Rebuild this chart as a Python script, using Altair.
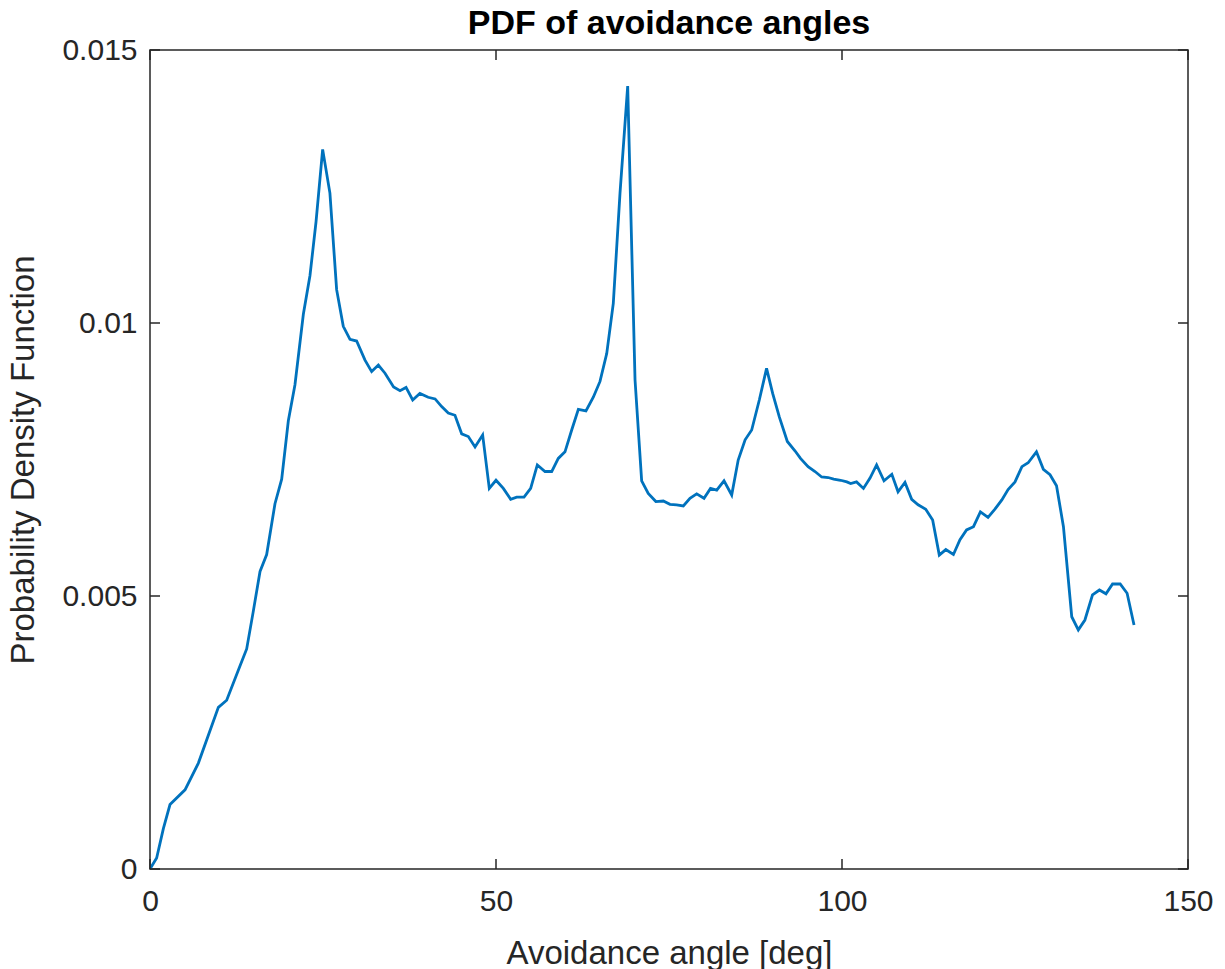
import altair as alt
import pandas as pd

# Curve (angle in deg, PDF value)
angle = [0, 0.96, 1.93, 2.89, 5.06, 6.99, 9.88, 11.08, 13.0, 13.97, 14.9, 15.9, 16.86,
         18.06, 19.03, 19.99, 20.95, 22.16, 23.12, 23.99, 24.95, 26.0, 26.97, 27.93,
         28.9, 29.86, 31.07, 32.03, 33.0, 33.96, 35.2, 36.13, 37.0, 37.96, 39.0, 40.2,
         41.2, 42.15, 43.1, 44.07, 45.04, 46.0, 46.97, 48.07, 49.03, 50.0, 51.06, 52.12,
         52.99, 54.05, 55.01, 55.97, 57.08, 58.05, 59.0, 59.97, 60.94, 61.9, 63.0, 64.06,
         65.03, 66.0, 66.95, 67.92, 69.03, 70.09, 71.05, 72.0, 73.1, 74.18, 75.14, 76.1,
         77.07, 78.03, 79.0, 80.06, 81.0, 81.9, 82.95, 84.06, 85.0, 86.0, 86.95, 88.05,
         89.1, 89.98, 90.94, 92.1, 93.2, 94.0, 95.1, 96.1, 97.06, 98.0, 98.8, 99.8, 100.7,
         101.25, 102.1, 103.1, 104.05, 105.0, 106.07, 107.2, 108.1, 109.1, 110.07, 111.0,
         112.1, 113.1, 114.06, 115.0, 116.1, 117.05, 118.0, 119.0, 120.0, 121.1, 122.1,
         123.1, 124.0, 125.0, 126.0, 126.9, 128.1, 129.1, 130.06, 131.0, 132.0, 133.2,
         134.15, 135.1, 136.2, 137.2, 138.15, 139.1, 140.2, 141.2, 142.2]
pdf = [0, 0.0002, 0.00074, 0.00118, 0.00145, 0.00194, 0.00296, 0.00309, 0.00372, 0.00403,
       0.0047, 0.00545, 0.00576, 0.00669, 0.00714, 0.00821, 0.00887, 0.01016, 0.01087,
       0.01185, 0.01318, 0.01238, 0.01061, 0.00994, 0.0097, 0.00967, 0.00932, 0.00911,
       0.00923, 0.00908, 0.00883, 0.00876, 0.00882, 0.00859, 0.00871, 0.00864, 0.00861,
       0.00847, 0.00835, 0.00831, 0.00797, 0.00792, 0.00773, 0.00795, 0.00697, 0.00712,
       0.00697, 0.00677, 0.00681, 0.00681, 0.00697, 0.0074, 0.00728, 0.00728, 0.00752,
       0.00764, 0.00804, 0.00842, 0.00839, 0.00864, 0.00893, 0.00944, 0.01036, 0.01238,
       0.01434, 0.00896, 0.00711, 0.00688, 0.00673, 0.00674, 0.00668, 0.00667, 0.00665,
       0.00679, 0.00687, 0.00679, 0.00697, 0.00694, 0.00711, 0.00685, 0.00749, 0.00786,
       0.00804, 0.00859, 0.00917, 0.00871, 0.00828, 0.00783, 0.00766, 0.00752, 0.00737,
       0.00728, 0.00718, 0.00717, 0.00714, 0.00712, 0.00709, 0.00706, 0.00709, 0.00697,
       0.00716, 0.0074, 0.00711, 0.00723, 0.00691, 0.00708, 0.00677, 0.00667, 0.00659,
       0.00639, 0.00575, 0.00585, 0.00576, 0.00603, 0.00621, 0.00627, 0.00654, 0.00644,
       0.00659, 0.00676, 0.00695, 0.00709, 0.00737, 0.00744, 0.00764, 0.00732, 0.00722,
       0.00702, 0.00627, 0.00462, 0.00438, 0.00456, 0.00502, 0.00511, 0.00504, 0.00522,
       0.00522, 0.00505, 0.00447]

x_ticks = [0, 50, 100, 150]
y_ticks = [0, 0.005, 0.01, 0.015]

W, H = 1038, 819
AX = "#262626"
FONT = "Liberation Sans"
TICK_LEN = 10

df = pd.DataFrame({"angle": angle, "pdf": pdf})
xt = pd.DataFrame({"angle": x_ticks})
yt = pd.DataFrame({"pdf": y_ticks})

xscale = alt.Scale(domain=[0, 150], nice=False, zero=False)
yscale = alt.Scale(domain=[0, 0.015], nice=False, zero=False)

common_axis = dict(grid=False, ticks=False, domain=False, labelFontSize=30, labelFont=FONT,
                   labelColor=AX, labelFlush=False, labelOverlap=False,
                   labelExpr="format(datum.value, '~g')",
                   titleFontSize=33, titleFont=FONT, titleColor=AX,
                   titleFontWeight="normal", titleBaseline="alphabetic")

line = alt.Chart(df).mark_line(color="#0072BD", strokeWidth=2.8, clip=True).encode(
    x=alt.X("angle:Q", scale=xscale,
            axis=alt.Axis(values=x_ticks, title="Avoidance angle [deg]", labelPadding=17,
                          titleY=94, **common_axis)),
    y=alt.Y("pdf:Q", scale=yscale,
            axis=alt.Axis(values=y_ticks, title="Probability Density Function",
                          labelPadding=13, titleX=-117, **common_axis)),
)

tick_style = dict(color=AX, strokeWidth=1.5)
xb = alt.Chart(xt).mark_rule(**tick_style).encode(
    x=alt.X("angle:Q", scale=xscale, axis=None), y=alt.value(H), y2=alt.value(H - TICK_LEN))
xtp = alt.Chart(xt).mark_rule(**tick_style).encode(
    x=alt.X("angle:Q", scale=xscale, axis=None), y=alt.value(0), y2=alt.value(TICK_LEN))
yl = alt.Chart(yt).mark_rule(**tick_style).encode(
    y=alt.Y("pdf:Q", scale=yscale, axis=None), x=alt.value(0), x2=alt.value(TICK_LEN))
yr = alt.Chart(yt).mark_rule(**tick_style).encode(
    y=alt.Y("pdf:Q", scale=yscale, axis=None), x=alt.value(W), x2=alt.value(W - TICK_LEN))

chart = alt.layer(line, xb, xtp, yl, yr).resolve_axis(
    x="independent", y="independent"
).properties(
    width=W, height=H,
    title=alt.TitleParams("PDF of avoidance angles", fontSize=34, font=FONT,
                          fontWeight="bold", color="#000000", anchor="middle",
                          offset=0, dy=6),
    autosize=alt.AutoSizeParams(type="none"),
    padding={"left": 150, "top": 50, "right": 37, "bottom": 100},
).configure(background="white").configure_view(stroke=AX, strokeWidth=1.5)

chart.save("out.html", embed_options={"renderer": "svg", "actions": False})
